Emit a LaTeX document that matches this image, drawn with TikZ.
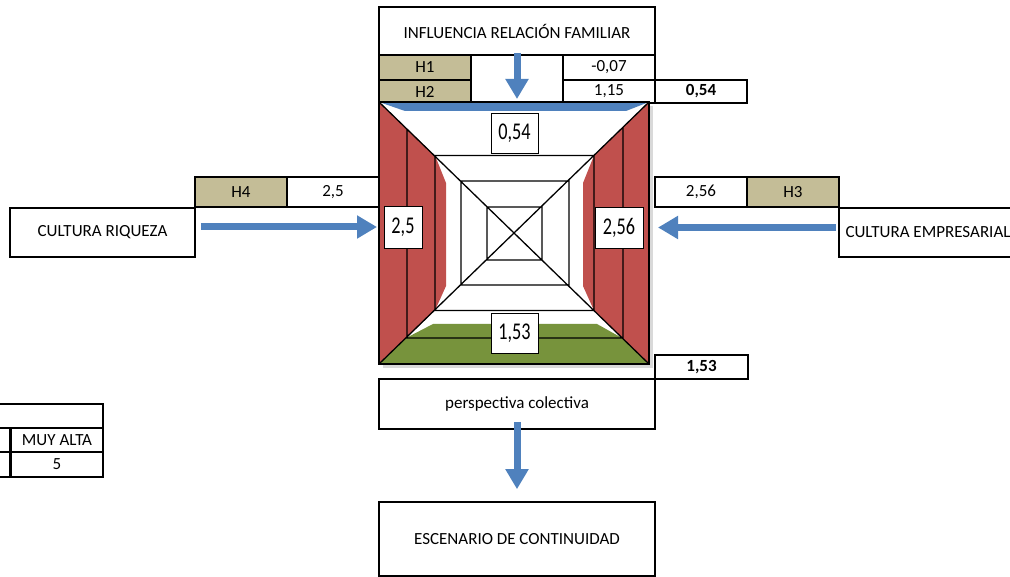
\documentclass[tikz,border=0pt]{standalone}
\usepackage{fontspec}
\setmainfont{Carlito}
\usepackage{tikz}
\usetikzlibrary{arrows.meta}
\definecolor{Tan}{HTML}{C4BD97}
\definecolor{WallRed}{HTML}{C0504D}
\definecolor{FloorGreen}{HTML}{77933C}
\definecolor{ArrBlue}{HTML}{4F81BD}
\newcommand\sqz[1]{\scalebox{0.76}[1]{#1}}
\tikzset{
  cell/.style={
    rectangle, draw=black, line width=1.6pt, fill=white,
    minimum width=#1, inner sep=0pt,
    font=\fontsize{17}{19}\selectfont
  },
  cell/.default=92pt,
  tcell/.style={cell, fill=Tan},
  lbl/.style={rectangle, draw=black, line width=0.9pt, fill=white,
    inner sep=0pt, font=\fontsize{24}{26}\selectfont},
  wall/.style={fill=WallRed},
  arr/.style={-{Triangle[length=20pt, width=22pt]}, line width=7pt, color=ArrBlue},
}
\begin{document}
\begin{tikzpicture}[x=1pt, y=-1pt]
\useasboundingbox (0,0) rectangle (1010,577);

\node[cell=276pt, minimum height=48pt] at (517,31) (fam) {INFLUENCIA RELACIÓN FAMILIAR};
\node[tcell, minimum height=25pt] at (425,67.5) (h1) {H1};
\node[cell, minimum height=48pt] at (517,79) (gap) {};
\node[cell, minimum height=25pt] at (609,67.5) (v1) {-0,07};
\node[tcell, minimum height=23pt] at (425,91.5) (h2) {H2};
\node[cell, minimum height=23pt] at (609,91.5) (v2) {1,15};
\node[cell, minimum height=23pt] at (701,91.5) (s2) {\textbf{0,54}};

\node[tcell, minimum height=30pt] at (241,192) (h4) {H4};
\node[cell, minimum height=30pt] at (333,192) (v4) {2,5};
\node[cell=185pt, minimum height=49pt] at (102.5,232.5) (riq) {CULTURA RIQUEZA};

\node[cell, minimum height=30pt] at (701,192) (v3) {2,56};
\node[tcell, minimum height=30pt] at (793,192) (h3) {H3};
\node[cell=178pt, minimum height=49pt] at (928,232.5) (emp) {CULTURA EMPRESARIAL};

\node[cell=93pt, minimum height=24pt] at (701.5,367) (s1) {\textbf{1,53}};
\node[cell=276pt, minimum height=50pt] at (517,404) (col) {perspectiva colectiva};
\node[cell=276pt, minimum height=74pt] at (517,539) (esc) {ESCENARIO DE CONTINUIDAD};

\node[cell=110pt, minimum height=24pt] at (48,416) (t0) {};
\node[cell=20pt, minimum height=24pt] at (0,440) (t1) {};
\node[cell, minimum height=24pt] at (57,440) (t2) {MUY ALTA};
\node[cell=20pt, minimum height=25pt] at (0,464.5) (t3) {};
\node[cell, minimum height=25pt] at (57,464.5) (t4) {5};

% pyramid
\coordinate (pTL) at (379,102);
\coordinate (pTR) at (649,102);
\coordinate (pBR) at (649,364);
\coordinate (pBL) at (379,364);
\fill[black!15] (383,106) rectangle (653,368);
\fill[white] (pTL) rectangle (pBR);
\fill[wall] (pTL) -- (435,155.5) -- (435,310.5) -- (pBL) -- cycle;
\fill[wall] (pTR) -- (594,155.5) -- (594,310.5) -- (pBR) -- cycle;
\fill[wall] (435,155.5) -- (446,183) -- (446,286) -- (435,310.5) -- cycle;
\fill[wall] (594,155.5) -- (583,183) -- (583,286) -- (594,310.5) -- cycle;
\fill[FloorGreen] (pBL) -- (406,338) -- (433,324) -- (597,324) -- (622,338) -- (pBR) -- cycle;
\fill[ArrBlue] (pTL) -- (405,111) -- (626,111) -- (pTR) -- cycle;
\draw[line width=1.3pt] (pTL) rectangle (pBR);
\draw[line width=1.3pt] (435,155.5) rectangle (594,310.5)
  (461,181) rectangle (569,285)
  (487,207) rectangle (542,260)
  (pTL) -- (pBR) (pTR) -- (pBL)
  (407,129) -- (407,337) (623,127) -- (623,339)
  (406,338) -- (622,338);

\node[lbl, minimum width=47pt, minimum height=40pt] at (514.5,133) (lt) {\sqz{0,54}};
\node[lbl, minimum width=38pt, minimum height=42pt] at (403,227) (ll) {\sqz{2,5}};
\node[lbl, minimum width=48pt, minimum height=41pt] at (619,227.5) (lr) {\sqz{2,56}};
\node[lbl, minimum width=47pt, minimum height=40pt] at (514.5,333) (lb) {\sqz{1,53}};

\coordinate (aT) at (517,99);
\draw[arr] ([yshift=3pt]fam.south) -- (aT);
\draw[arr] ([xshift=5pt]riq.east |- ll) -- ([xshift=-2pt]pBL |- ll);
\draw[arr] ([xshift=-2pt]emp.west |- lr) -- ([xshift=9pt]pBR |- lr);
\draw[arr] ([yshift=8pt]col.south) -- ([yshift=12pt]esc.north);

\end{tikzpicture}
\end{document}
